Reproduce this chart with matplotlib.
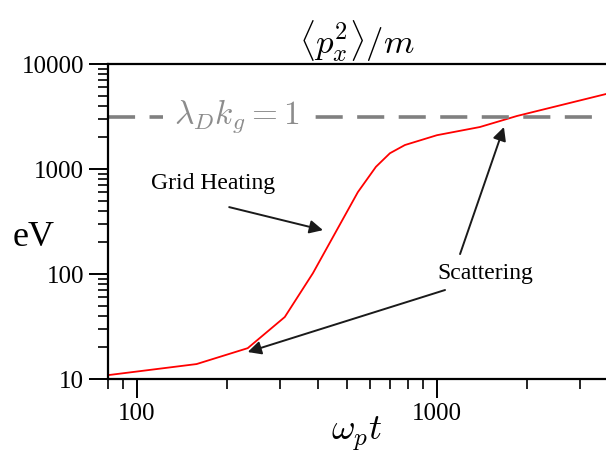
import numpy as np
import matplotlib
matplotlib.use("Agg")
import matplotlib.pyplot as plt

plt.rcParams['font.family'] = ['Liberation Serif', 'DejaVu Serif']
plt.rcParams['mathtext.fontset'] = 'cm'

# energia media vs tempo
wpt = [80, 158, 234, 311, 386, 545, 626, 697, 782, 1000, 1390, 1848, 3660]
energia = [10.9, 13.9, 19.7, 39, 102, 603, 1050, 1414, 1693, 2100, 2512, 3200, 5180]
limite = 3160  # lambda_D k_g = 1

xticks = [100, 1000]
yticks = [10, 100, 1000, 10000]

fig = plt.figure(figsize=(6.06, 4.54), dpi=100)
ax = fig.add_axes([0.178, 0.165, 0.822, 0.694])

ax.plot(wpt, energia, color='red', lw=1.3)
ax.axhline(limite, color='#808080', lw=2.6, dashes=(7.5, 4))

ax.set_xscale('log')
ax.set_yscale('log')
ax.set_xlim(80, 3660)
ax.set_ylim(10, 10000)
ax.set_xticks(xticks)
ax.set_xticklabels([str(v) for v in xticks])
ax.set_yticks(yticks)
ax.set_yticklabels([str(v) for v in yticks])

ax.spines['right'].set_visible(False)
for s in ['left', 'bottom', 'top']:
    ax.spines[s].set_linewidth(1.6)
ax.tick_params(which='major', direction='out', length=14, width=1.4, labelsize=18, pad=3)
ax.tick_params(which='minor', direction='out', length=7, width=1.2)
ax.tick_params(top=False, right=False, which='both')

ax.set_title(r'$\langle p_x^2\rangle/m$', fontsize=25, pad=8)
ax.set_xlabel(r'$\omega_p t$', fontsize=26, labelpad=-7)
fig.text(34 / 606, 1 - 238 / 454, 'eV', fontsize=26, ha='center', va='center')

ax.text(215, limite, r'$\lambda_D k_g = 1$', color='#8c8c8c', fontsize=24,
        ha='center', va='center', bbox=dict(facecolor='white', edgecolor='none', pad=8))

seta = dict(arrowstyle='-|>', color='#1a1a1a', lw=1.4, mutation_scale=20,
            shrinkA=0, shrinkB=0)
ax.text(180, 736, 'Grid Heating', fontsize=17, ha='center', va='center')
ax.annotate('', xy=(417, 262), xytext=(203, 434), arrowprops=seta)

ax.text(1445, 102, 'Scattering', fontsize=17, ha='center', va='center')
ax.annotate('', xy=(1672, 2512), xytext=(1194, 155), arrowprops=seta)
ax.annotate('', xy=(234, 18.1), xytext=(1064, 70.5), arrowprops=seta)

plt.savefig('out.png', dpi=100)
